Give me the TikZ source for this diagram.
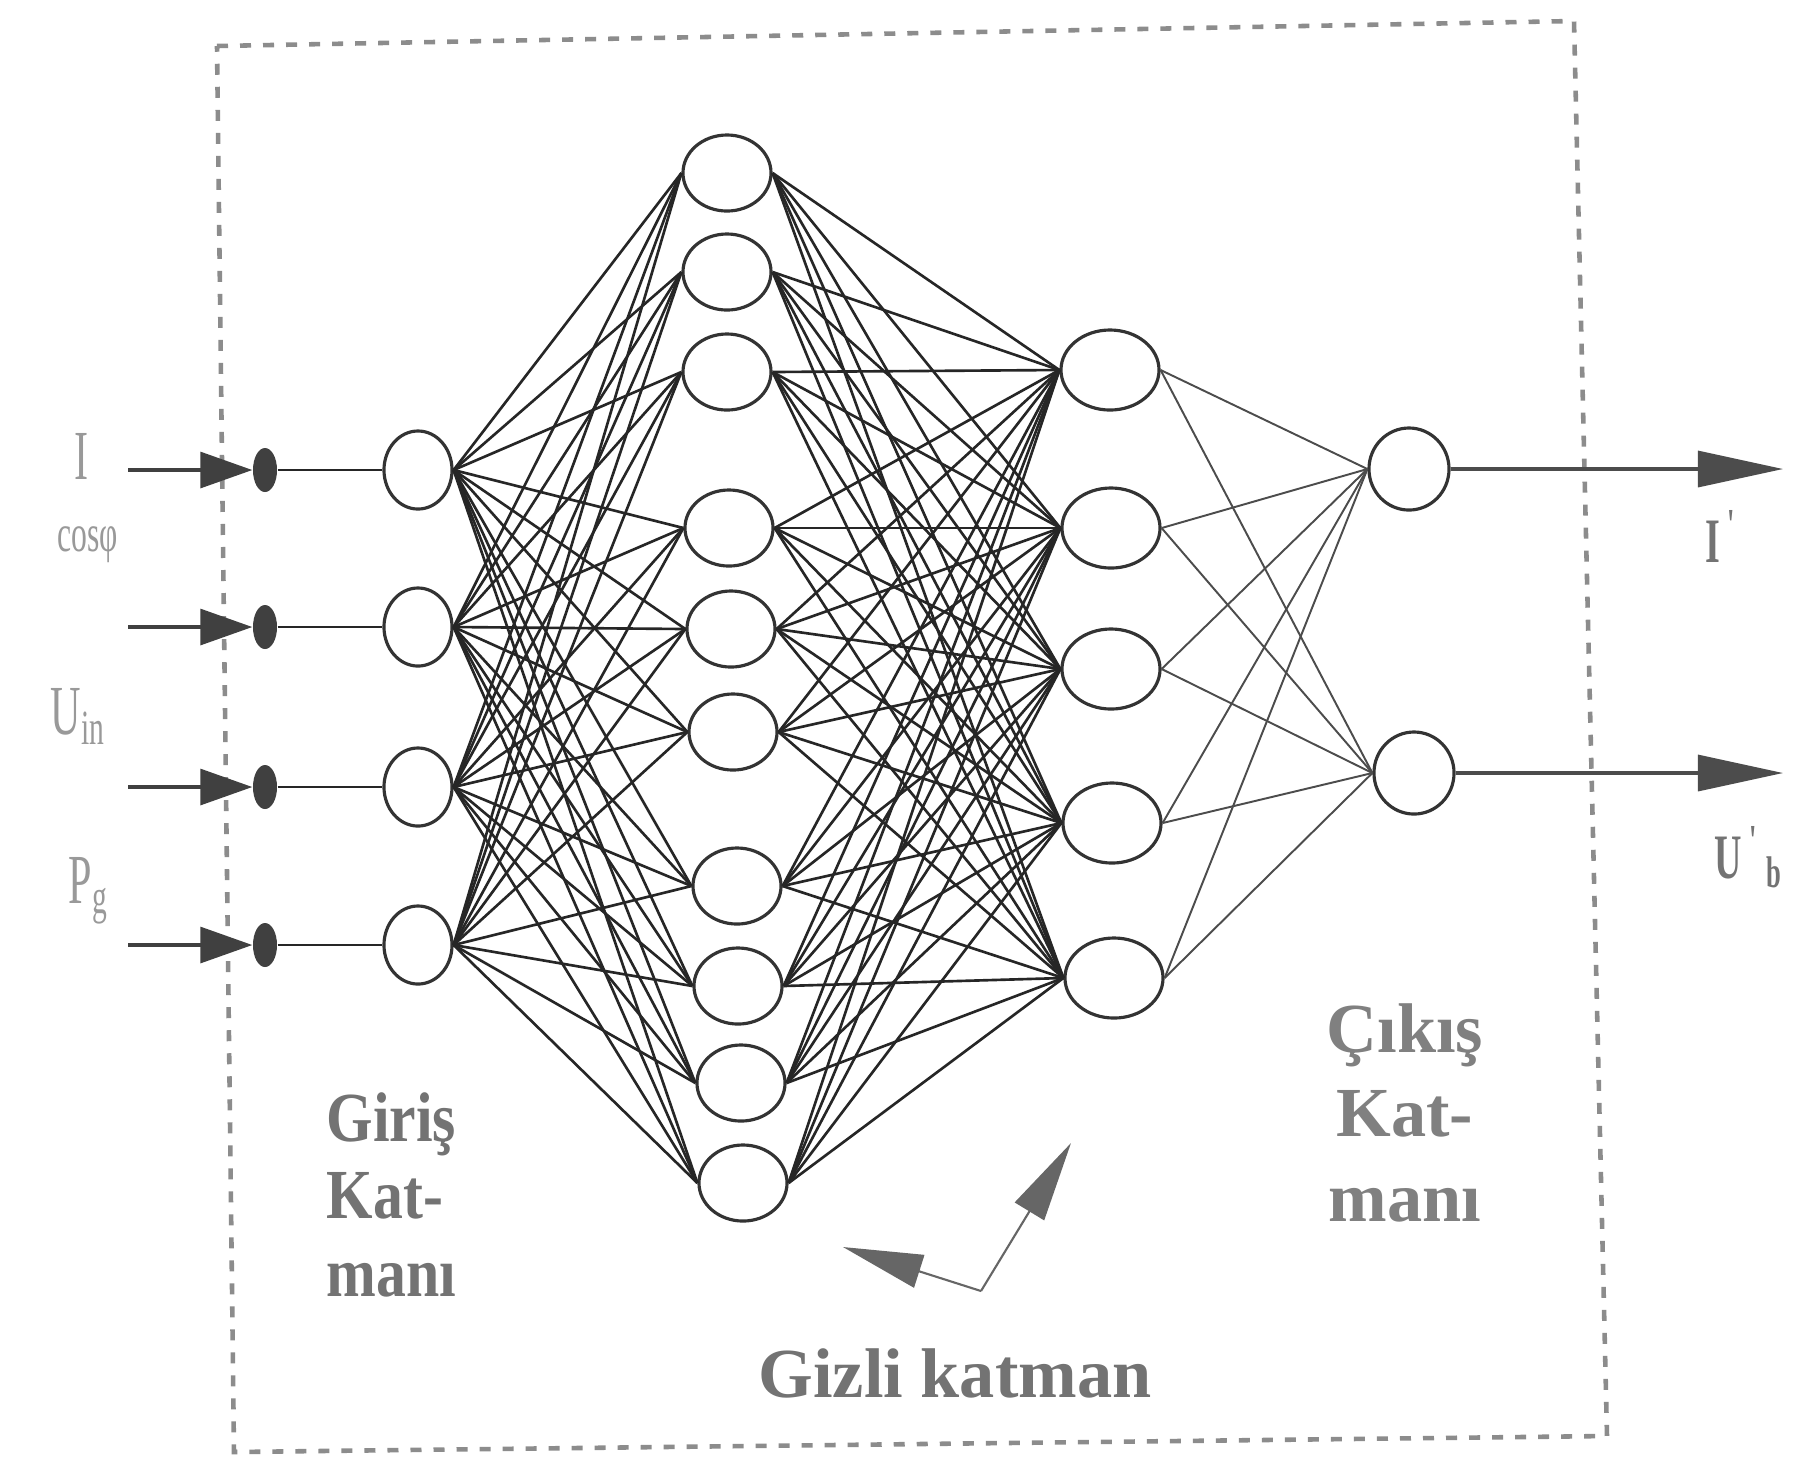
\documentclass[tikz,border=0pt]{standalone}
\usepackage{fontspec}
\setmainfont{Liberation Serif}
\newfontfamily\layerfont[FakeStretch=0.85]{Liberation Serif}
\newfontfamily\sigfont[FakeStretch=0.6]{Liberation Serif}
\usetikzlibrary{shapes.geometric,arrows.meta}

\tikzset{
  neuron/.style={ellipse,draw=black!80,line width=0.9pt,fill=white,inner sep=0pt},
  inneuron/.style={neuron,minimum width=0.68cm,minimum height=0.78cm},
  hidneurona/.style={neuron,minimum width=0.88cm,minimum height=0.76cm},
  hidneuronb/.style={neuron,minimum width=0.98cm,minimum height=0.80cm},
  outneuron/.style={neuron,minimum width=0.80cm,minimum height=0.82cm},
  weight/.style={draw=black!85,line width=0.75pt},
  indot/.style={ellipse,fill=black!75,minimum width=0.24cm,minimum height=0.44cm,inner sep=0pt},
  sigarrow/.style={draw=black!75,line width=0.9pt,-{Triangle[length=0.52cm,width=0.36cm]}},
  outarrow/.style={draw=black!70,line width=0.9pt,-{Triangle[length=0.85cm,width=0.36cm]}},
  pointer/.style={draw=black!60,line width=0.6pt,-{Triangle[length=0.8cm,width=0.34cm]}},
  frame/.style={draw=black!45,line width=1.3pt,dash pattern=on 0.11cm off 0.12cm},
  siglabel/.style={text=black!40,inner sep=0pt,font=\sigfont\fontsize{20}{22}\selectfont},
  outlabel/.style={text=black!55,inner sep=0pt,font=\sigfont\bfseries\fontsize{18}{20}\selectfont},
  layertext/.style={text=black!55,inner sep=0pt,font=\bfseries\fontsize{20}{22}\selectfont}
}

\begin{document}
\begin{tikzpicture}[x=0.01cm,y=-0.01cm]
  \useasboundingbox[fill=white] (0,0) rectangle (1793,1459);
  \draw[frame] (217,46) -- (1574,21) -- (1607,1436) -- (234,1452) -- cycle;

  % input layer
  \foreach \i/\y in {1/470,2/627,3/787,4/945} {
    \node[inneuron] (in\i) at (418,\y) {};
    \node[indot] (d\i) at (265,\y) {};
    \coordinate (s\i) at (128,\y);
    \draw[sigarrow] (s\i) -- (d\i.west);
    \draw[weight] (d\i.east) -- (in\i.west);
  }

  % hidden layers
  \foreach \i/\x/\y in {1/727/173,2/727/272,3/727/372,4/729/528,5/731/629,
                        6/733/732,7/737/886,8/738/986,9/741/1083,10/743/1183}
    \node[hidneurona] (ha\i) at (\x,\y) {};
  \foreach \i/\x/\y in {1/1110/370,2/1111/528,3/1111/669,4/1112/823,5/1114/978}
    \node[hidneuronb] (hb\i) at (\x,\y) {};

  % output layer
  \node[outneuron] (out1) at (1409,469) {};
  \node[outneuron] (out2) at (1414,773) {};
  \coordinate (e1) at (1783,469);
  \coordinate (e2) at (1783,773);
  \draw[outarrow] (out1.east) -- (e1);
  \draw[outarrow] (out2.east) -- (e2);

  % weights
  \foreach \i in {1,...,4}
    \foreach \j in {1,...,10}
      \draw[weight] (in\i.east) -- (ha\j.west);
  \foreach \i in {1,...,10}
    \foreach \j in {1,...,5}
      \draw[weight] (ha\i.east) -- (hb\j.west);
  \foreach \i in {1,...,5}
    \foreach \j in {1,2}
      \draw[weight,draw=black!70,line width=0.55pt] (hb\i.east) -- (out\j.west);

  % signal names
  \node[siglabel] (lbli) at (82,456) {I};
  \node[siglabel,font=\sigfont\fontsize{15}{17}\selectfont] (lblcos) at (88,545) {cosφ};
  \node[siglabel,anchor=base west] (lblu) at (50,734) {U\textsubscript{in}};
  \node[siglabel,anchor=base west] (lblp) at (68,903) {P\textsubscript{g}};
  \node[outlabel,anchor=base west] (lblio) at (1705,562) {I\textsuperscript{\,'}};
  \node[outlabel,anchor=base west] (lbluo) at (1714,878) {U\textsuperscript{\,'}\textsubscript{\,b}};

  % layer names
  \node[layertext,anchor=north west,align=left,font=\layerfont\bfseries\fontsize{20}{22}\selectfont] (giris) at (326,1092) {Giriş\\Kat-\\manı};
  \node[layertext,anchor=north,align=center,font=\bfseries\fontsize{20}{24}\selectfont,text=black!50] (cikis) at (1405,1003) {Çıkış\\Kat-\\manı};
  \node[layertext,anchor=base] (gizli) at (955,1397) {Gizli katman};

  % pointer to the hidden layer
  \coordinate (bend) at (981,1291);
  \coordinate (tipl) at (843,1247);
  \coordinate (tipu) at (1071,1143);
  \draw[pointer] (bend) -- (tipl);
  \draw[pointer] (bend) -- (tipu);
\end{tikzpicture}
\end{document}
